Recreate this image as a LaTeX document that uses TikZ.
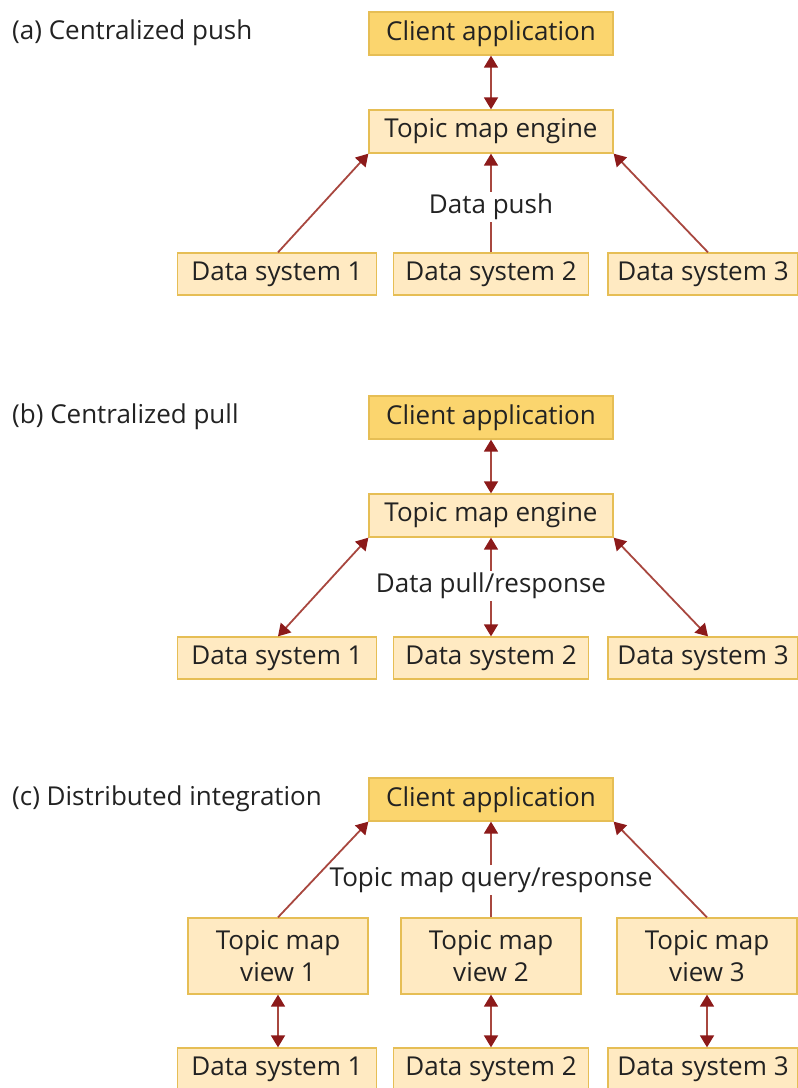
\documentclass[tikz,border=0pt]{standalone}
\usepackage{fontspec}
\setmainfont{Open Sans}
\usetikzlibrary{arrows.meta}
\definecolor{boxline}{HTML}{E6BE55}
\definecolor{clientfill}{HTML}{FBD56E}
\definecolor{boxfill}{HTML}{FFEAC2}
\definecolor{shaft}{HTML}{A8473F}
\definecolor{tipred}{HTML}{8C1A1A}
\definecolor{txt}{HTML}{222222}
\tikzset{
  x=1pt, y=-1pt,
  every node/.style={font=\fontsize{26}{30}\selectfont, text=txt},
  basebox/.style={draw=boxline, line width=1.3pt, rectangle, inner sep=0pt, align=center},
  clientbox/.style={basebox, fill=clientfill, minimum width=244pt, minimum height=43pt},
  enginebox/.style={basebox, fill=boxfill, minimum width=244pt, minimum height=43pt},
  dsbox/.style={basebox, fill=boxfill, minimum height=42pt},
  viewbox/.style={basebox, fill=boxfill, minimum width=180pt, minimum height=76pt, font=\fontsize{26}{32}\selectfont},
  flowlabel/.style={inner sep=2pt, fill=white},
  panel/.style={anchor=west, inner sep=0pt},
  link/.style={draw=shaft, line width=1.8pt},
  onetip/.style={link, -{Triangle[width=14pt,length=12pt,color=tipred]}},
  twotip/.style={link, {Triangle[width=14pt,length=12pt,color=tipred]}-{Triangle[width=14pt,length=12pt,color=tipred]}},
}
\begin{document}
\begin{tikzpicture}
\useasboundingbox (0,0) rectangle (798,1088);

% ---------- (a) centralized push ----------
\node[panel] (la) at (12,33) {(a) Centralized push};
\node[clientbox] (ca) at (491,33.5) {Client application};
\node[enginebox] (ea) at (491,131.5) {Topic map engine};
\node[dsbox, minimum width=199pt] (da1) at (277,274) {Data system 1};
\node[dsbox, minimum width=195pt] (da2) at (491,274) {Data system 2};
\node[dsbox, minimum width=190pt] (da3) at (703,274) {Data system 3};
\node[flowlabel] (pa) at (491,207) {Data push};
\draw[twotip] (ca.south) -- (ea.north);
\draw[onetip] ([xshift=1pt]da1.north) -- (ea.south west);
\draw[link] (da2.north) -- (pa.south);
\draw[onetip] (pa.north) -- (ea.south);
\draw[onetip] ([xshift=5pt]da3.north) -- (ea.south east);

% ---------- (b) centralized pull ----------
\node[panel] (lb) at (12,417) {(b) Centralized pull};
\node[clientbox] (cb) at (491,417.5) {Client application};
\node[enginebox] (eb) at (491,515.5) {Topic map engine};
\node[dsbox, minimum width=199pt] (db1) at (277,658) {Data system 1};
\node[dsbox, minimum width=195pt] (db2) at (491,658) {Data system 2};
\node[dsbox, minimum width=190pt] (db3) at (703,658) {Data system 3};
\node[flowlabel] (pb) at (491,586) {Data pull/response};
\draw[twotip] (cb.south) -- (eb.north);
\draw[twotip] ([xshift=1pt]db1.north) -- (eb.south west);
\draw[onetip] (pb.north) -- (eb.south);
\draw[onetip] (pb.south) -- (db2.north);
\draw[twotip] ([xshift=5pt]db3.north) -- (eb.south east);

% ---------- (c) distributed integration ----------
\node[panel] (lc) at (12,799) {(c) Distributed integration};
\node[clientbox] (cc) at (491,799.5) {Client application};
\node[viewbox] (v1) at (278,956) {Topic map\\view 1};
\node[viewbox] (v2) at (491,956) {Topic map\\view 2};
\node[viewbox] (v3) at (707,956) {Topic map\\view 3};
\node[dsbox, minimum width=199pt] (dc1) at (277,1069) {Data system 1};
\node[dsbox, minimum width=195pt] (dc2) at (491,1069) {Data system 2};
\node[dsbox, minimum width=190pt] (dc3) at (703,1069) {Data system 3};
\node[flowlabel] (qc) at (491,880) {Topic map query/response};
\draw[onetip] (v1.north) -- (cc.south west);
\draw[link] (v2.north) -- (qc.south);
\draw[onetip] (qc.north) -- (cc.south);
\draw[onetip] (v3.north) -- (cc.south east);
\draw[twotip] (v1.south) -- (v1.south |- dc1.north);
\draw[twotip] (v2.south) -- (v2.south |- dc2.north);
\draw[twotip] (v3.south) -- (v3.south |- dc3.north);
\end{tikzpicture}
\end{document}
